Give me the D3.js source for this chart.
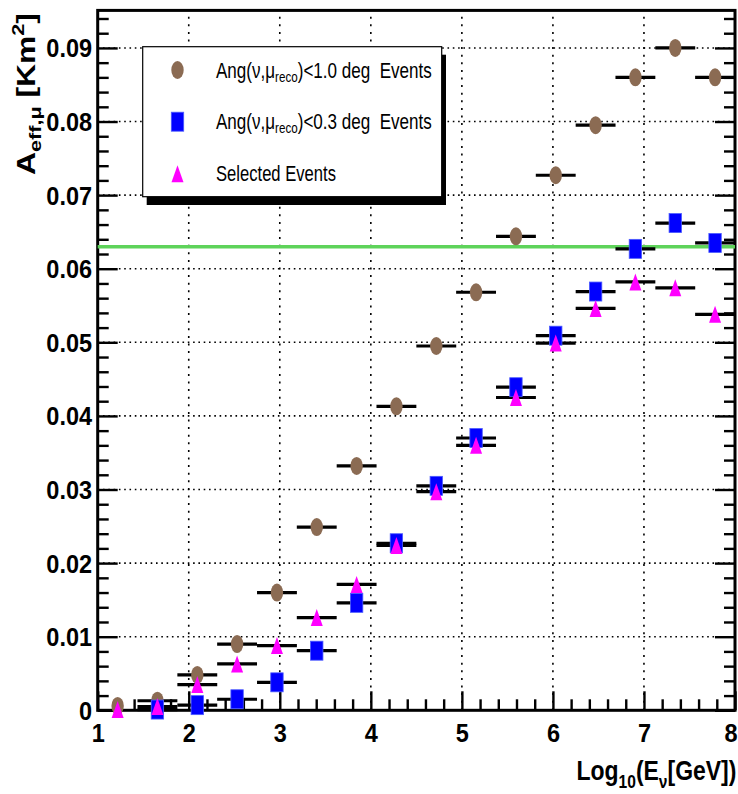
<!DOCTYPE html>
<html>
<head>
<meta charset="utf-8">
<script src="https://cdn.jsdelivr.net/npm/d3@7"></script>
<style>
  html, body { margin: 0; padding: 0; background: #fff; }
  svg { display: block; }
  text { font-family: "Liberation Sans", Arial, Helvetica, sans-serif; fill: #000; }
</style>
</head>
<body>
<svg id="chart" width="738" height="794"></svg>
<script>
// ---- data -------------------------------------------------------------
// bin centres in log10(E_nu / GeV) and their half widths
const logE = [1.219, 1.656, 2.094, 2.531, 2.969, 3.406, 3.844, 4.281,
              4.719, 5.156, 5.594, 6.031, 6.469, 6.906, 7.344, 7.781];
const halfWidth = [0, 0.219, 0.219, 0.219, 0.219, 0.219, 0.219, 0.219,
                   0.219, 0.219, 0.219, 0.219, 0.219, 0.219, 0.219, 0.219];

// effective area [km^2]
const effAng10 = [0.0006, 0.0013, 0.0048, 0.0090, 0.0160, 0.0249, 0.0332, 0.0413,
                  0.0495, 0.0568, 0.0644, 0.0727, 0.0795, 0.0860, 0.0900, 0.0860];
const effAng03 = [null, 0.0001, 0.0007, 0.0015, 0.0038, 0.0081, 0.0146, 0.0227,
                  0.0305, 0.0370, 0.0439, 0.0509, 0.0569, 0.0627, 0.0662, 0.0635];
const effSelected = [0.0001, 0.0005, 0.0035, 0.0063, 0.0088, 0.0126, 0.0171, 0.0224,
                     0.0297, 0.0360, 0.0425, 0.0499, 0.0546, 0.0582, 0.0574, 0.0538];

const referenceLevel = 0.063;

const xTicks = [1, 2, 3, 4, 5, 6, 7, 8];
const xTickLabels = ["1", "2", "3", "4", "5", "6", "7", "8"];
const yTicks = [0, 0.01, 0.02, 0.03, 0.04, 0.05, 0.06, 0.07, 0.08, 0.09];
const yTickLabels = ["0", "0.01", "0.02", "0.03", "0.04", "0.05", "0.06", "0.07", "0.08", "0.09"];

// legend labels as [text, role] pieces
const legendAng10 = [["Ang(ν,μ", ""], ["reco", "sub"], [")<1.0 deg\u00a0 Events", ""]];
const legendAng03 = [["Ang(ν,μ", ""], ["reco", "sub"], [")<0.3 deg\u00a0 Events", ""]];
const legendSelected = [["Selected Events", ""]];

// ---- layout -------------------------------------------------------------
const svg = d3.select("#chart");
const W = +svg.attr("width");
const x = d3.scaleLinear().domain([1, 8]).range([97.7, 735]);
const y = d3.scaleLinear().domain([0, 0.0951]).range([710.3, 10.4]);
const [x0, x1] = x.range();
const [y0, y1] = y.range();

const brown = "#8b6b53", blue = "#0000ff", magenta = "#ff00ff", green = "#5ed35a";

// ---- dotted grid --------------------------------------------------------
const grid = svg.append("g");
grid.selectAll("line.gx").data(xTicks.slice(1, -1)).join("line")
  .attr("x1", d => x(d)).attr("x2", d => x(d))
  .attr("y1", y0).attr("y2", y1)
  .attr("stroke", "#000").attr("stroke-width", 1.6)
  .attr("stroke-dasharray", "2,5.6");
grid.selectAll("line.gy").data(yTicks.slice(1)).join("line")
  .attr("x1", x0).attr("x2", x1)
  .attr("y1", d => y(d)).attr("y2", d => y(d))
  .attr("stroke", "#000").attr("stroke-width", 1.6)
  .attr("stroke-dasharray", "1.6,3.7");

// ---- axes ---------------------------------------------------------------
const yMinor = d3.range(0, 0.0951, 0.002).filter(v => Math.abs(v / 0.01 - Math.round(v / 0.01)) > 1e-6);
const xMinor = d3.range(1, 8.0001, 0.2).filter(v => Math.abs(v - Math.round(v)) > 1e-6);

function styleAxis(g) {
  g.select(".domain").remove();
  g.selectAll("line").attr("stroke", "#000").attr("stroke-width", 2.4);
  g.attr("font-family", null).attr("font-size", null);
  g.selectAll("text")
    .attr("font-weight", "bold").attr("font-size", 25)
    .attr("fill", "#000");
}

// left axis: major ticks with labels, minor ticks, pointing into the frame
svg.append("g").attr("transform", `translate(${x0},0)`)
  .call(d3.axisLeft(y).tickValues(yTicks).tickFormat((d, i) => yTickLabels[i])
        .tickSizeInner(-20).tickSizeOuter(0).tickPadding(6))
  .call(styleAxis)
  .call(g => g.selectAll("text").attr("transform", "scale(0.94,1)").attr("dy", "0.36em"));
svg.append("g").attr("transform", `translate(${x0},0)`)
  .call(d3.axisLeft(y).tickValues(yMinor).tickFormat("").tickSizeInner(-11).tickSizeOuter(0))
  .call(styleAxis);

// right axis: ticks only
svg.append("g").attr("transform", `translate(${x1},0)`)
  .call(d3.axisLeft(y).tickValues(yTicks).tickFormat("").tickSizeInner(20).tickSizeOuter(0))
  .call(styleAxis);
svg.append("g").attr("transform", `translate(${x1},0)`)
  .call(d3.axisLeft(y).tickValues(yMinor).tickFormat("").tickSizeInner(11).tickSizeOuter(0))
  .call(styleAxis);

// bottom axis
svg.append("g").attr("transform", `translate(0,${y0})`)
  .call(d3.axisBottom(x).tickValues(xTicks).tickFormat((d, i) => xTickLabels[i])
        .tickSizeInner(-19).tickSizeOuter(0).tickPadding(14))
  .call(styleAxis)
  .call(g => g.selectAll("text").attr("transform", "scale(0.94,1)"))
  // keep the last label inside the page
  .call(g => g.selectAll(".tick").each(function () {
    const t = d3.select(this).select("text");
    const box = t.node().getBoundingClientRect();
    if (box.right > W - 0.5) {
      t.attr("x", -(box.right - (W - 0.5)) / 0.94);
    }
  }));
svg.append("g").attr("transform", `translate(0,${y0})`)
  .call(d3.axisBottom(x).tickValues(xMinor).tickFormat("").tickSizeInner(-11).tickSizeOuter(0))
  .call(styleAxis);

// frame
svg.append("rect")
  .attr("x", x0).attr("y", y1).attr("width", x1 - x0).attr("height", y0 - y1)
  .attr("fill", "none").attr("stroke", "#000").attr("stroke-width", 3);

// ---- axis titles ----------------------------------------------------------
function addPieces(textSel, pieces, subSize, subShift, supShift) {
  let shift = 0;
  pieces.forEach(([t, role]) => {
    const target = role === "sub" ? subShift : role === "sup" ? -supShift : 0;
    const ts = textSel.append("tspan").text(t).attr("dy", target - shift);
    if (role) ts.attr("font-size", subSize);
    shift = target;
  });
}

const xTitle = svg.append("text").attr("font-weight", "bold").attr("font-size", 28)
  .attr("text-anchor", "start");
addPieces(xTitle, [["Log", ""], ["10", "sub"], ["(E", ""], ["ν", "sub"], ["[GeV])", ""]], 19, 8, 0);
{
  const w = xTitle.node().getBBox().width;
  xTitle.attr("transform", `translate(${x1 + 1.5 - 160},780) scale(${160 / w},1)`);
}

const yTitle = svg.append("text").attr("font-weight", "bold").attr("font-size", 25)
  .attr("text-anchor", "start");
addPieces(yTitle, [["A", ""], ["eff,μ", "sub"], [" [Km", ""], ["2", "sup"], ["]", ""]], 17, 6, 11);
{
  const w = yTitle.node().getBBox().width;
  yTitle.attr("transform", `translate(35,175) rotate(-90) scale(${162 / w},1)`);
}

// ---- reference level ------------------------------------------------------
svg.append("line")
  .attr("x1", x0).attr("x2", x1)
  .attr("y1", y(referenceLevel)).attr("y2", y(referenceLevel))
  .attr("stroke", green).attr("stroke-width", 3.5);

// ---- horizontal bin-width bars, then markers -------------------------------
const series = [
  { values: effAng10, shape: "circle", color: brown },
  { values: effAng03, shape: "square", color: blue },
  { values: effSelected, shape: "triangle", color: magenta }
];

const bars = svg.append("g");
series.forEach(s => {
  const pts = s.values.map((v, i) => ({ v, i })).filter(p => p.v !== null && halfWidth[p.i] > 0);
  bars.selectAll(null).data(pts).join("line")
    .attr("x1", p => x(logE[p.i] - halfWidth[p.i]))
    .attr("x2", p => x(logE[p.i] + halfWidth[p.i]))
    .attr("y1", p => y(p.v)).attr("y2", p => y(p.v))
    .attr("stroke", "#000").attr("stroke-width", 3.2);
});

function drawMarker(g, shape, color, cx, cy) {
  if (shape === "circle") {
    g.append("ellipse").attr("cx", cx).attr("cy", cy).attr("rx", 6.2).attr("ry", 9)
      .attr("fill", color);
  } else if (shape === "square") {
    g.append("rect").attr("x", cx - 6.2).attr("y", cy - 9.5).attr("width", 12.4).attr("height", 19)
      .attr("fill", color).attr("stroke", "#4b5bff").attr("stroke-width", 0.8);
  } else {
    g.append("path")
      .attr("d", `M${cx},${cy - 8.5}L${cx + 6},${cy + 8.5}L${cx - 6},${cy + 8.5}Z`)
      .attr("fill", color);
  }
}

const marks = svg.append("g");
series.forEach(s => {
  s.values.forEach((v, i) => {
    if (v === null) return;
    drawMarker(marks, s.shape, s.color, x(logE[i]), y(v));
  });
});

// ---- legend ---------------------------------------------------------------
const legend = svg.append("g");
legend.append("rect").attr("x", 146.7).attr("y", 54.7).attr("width", 299.3).attr("height", 150.3)
  .attr("fill", "#000");
legend.append("rect").attr("x", 142.7).attr("y", 46.7).attr("width", 299).attr("height", 150)
  .attr("fill", "#fff").attr("stroke", "#000").attr("stroke-width", 1.2);

const legendRows = [
  { pieces: legendAng10, shape: "circle", color: brown, cy: 70, base: 77.5, width: 216 },
  { pieces: legendAng03, shape: "square", color: blue, cy: 121.7, base: 129.3, width: 216 },
  { pieces: legendSelected, shape: "triangle", color: magenta, cy: 173.8, base: 180.5, width: 120 }
];
legendRows.forEach(r => {
  drawMarker(legend, r.shape, r.color, 177.5, r.cy);
  const t = legend.append("text").attr("font-size", 22).attr("text-anchor", "start");
  addPieces(t, r.pieces, 15, 4, 0);
  const w = t.node().getBBox().width;
  t.attr("transform", `translate(216,${r.base}) scale(${r.width / w},1)`);
});
</script>
</body>
</html>
